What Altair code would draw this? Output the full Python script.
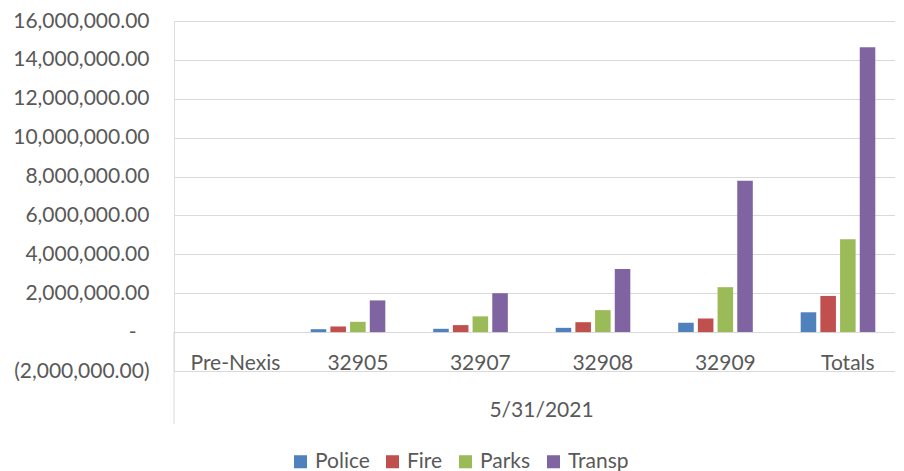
import altair as alt
import pandas as pd

categories = ["Pre-Nexis", "32905", "32907", "32908", "32909", "Totals"]
series = ["Police", "Fire", "Parks", "Transp"]
police = [0, 150000, 170000, 220000, 480000, 1020000]
fire = [0, 290000, 360000, 510000, 700000, 1860000]
parks = [0, 530000, 810000, 1130000, 2310000, 4780000]
transp = [0, 1630000, 2000000, 3240000, 7780000, 14650000]
colors = ["#4F81BD", "#C0504D", "#9BBB59", "#8064A2"]
y_ticks = [-2000000, 0, 2000000, 4000000, 6000000, 8000000,
           10000000, 12000000, 14000000, 16000000]
group_label = "5/31/2021"

rows = []
for name, vals in zip(series, [police, fire, parks, transp]):
    for cat, v in zip(categories, vals):
        rows.append({"category": cat, "series": name, "value": v})
df = pd.DataFrame(rows)

FONT = "Lato"
TXT = "#595959"
GRID = "#D9D9D9"

label_expr = (
    "datum.value == 0 ? '-' : (datum.value < 0 ? "
    "'(' + format(-datum.value, ',.2f') + ')' : "
    "format(datum.value, ',.2f'))"
)

bars = alt.Chart(df).mark_bar().encode(
    x=alt.X(
        "category:N",
        sort=categories,
        scale=alt.Scale(paddingInner=0.23, paddingOuter=0.058, align=1),
        axis=alt.Axis(
            title=group_label,
            orient="bottom",
            offset=-39,
            domain=False,
            ticks=False,
            labelAngle=0,
            labelPadding=20,
            labelFontSize=21,
            labelColor=TXT,
            labelFont=FONT,
            titleFontSize=21,
            titleFontWeight="normal",
            titleColor=TXT,
            titleFont=FONT,
            titlePadding=26,
            titleX=367,
        ),
    ),
    xOffset=alt.XOffset(
        "series:N",
        scale=alt.Scale(domain=series + ["~"], paddingInner=0.21, paddingOuter=0),
    ),
    y=alt.Y(
        "value:Q",
        scale=alt.Scale(domain=[-2000000, 16000000], nice=False, zero=False),
        axis=alt.Axis(
            values=y_ticks,
            title=None,
            labelExpr=label_expr,
            labelFontSize=21,
            labelColor=TXT,
            labelFont=FONT,
            ticks=False,
            domain=False,
            gridColor=GRID,
            labelPadding={"condition": {"test": "datum.value == 0", "value": 38},
                          "value": 25},
        ),
    ),
    color=alt.Color(
        "series:N",
        sort=series,
        scale=alt.Scale(domain=series, range=colors),
        legend=alt.Legend(
            orient="none",
            legendX=116,
            legendY=430,
            direction="horizontal",
            title=None,
            symbolType="square",
            symbolSize=170,
            symbolStrokeWidth=0,
            labelFontSize=21,
            labelColor=TXT,
            labelFont=FONT,
            columnPadding=12,
            labelOffset=4,
        ),
    ),
)

vline = alt.Chart(pd.DataFrame({"a": [0]})).mark_rule(color=GRID, strokeWidth=1).encode(
    x=alt.value(0),
    y=alt.value(311),
    y2=alt.value(403),
)

chart = alt.layer(bars, vline).properties(
    width=721,
    height=350,
    padding={"left": 4, "top": 2, "right": 0, "bottom": 0},
).configure_view(stroke=None).configure(font=FONT)

chart.save("out.html", embed_options={"renderer": "svg", "actions": False})
